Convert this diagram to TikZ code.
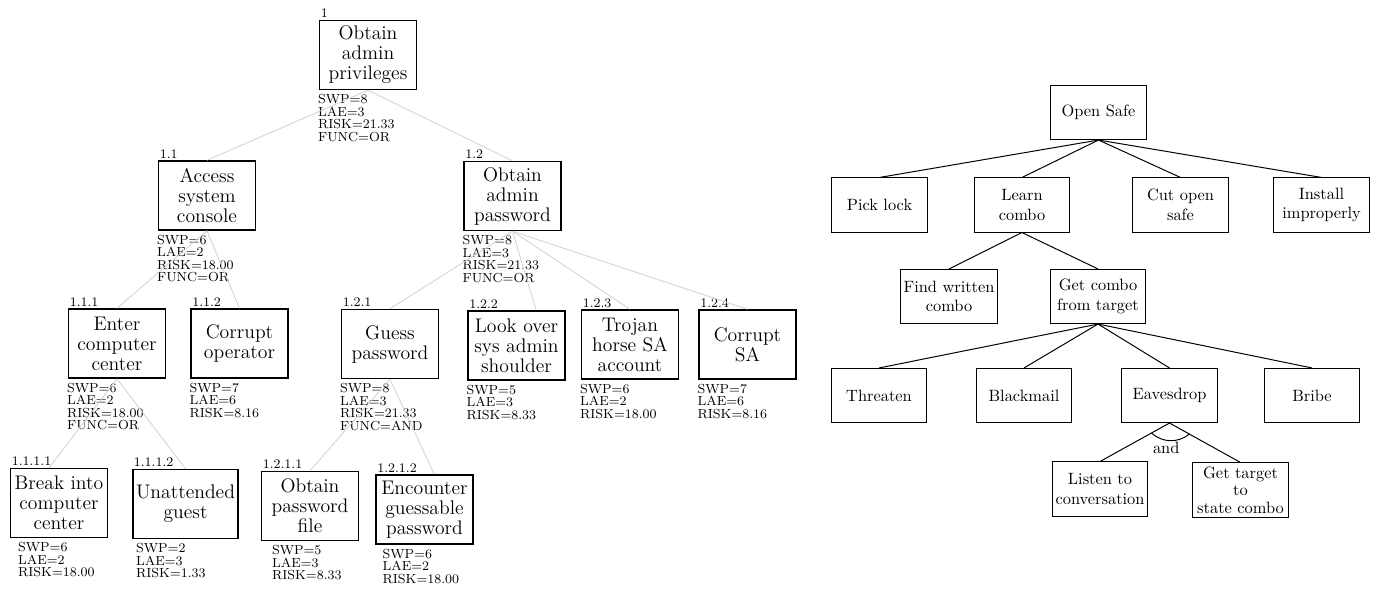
\documentclass[tikz,border=0pt]{standalone}
\usetikzlibrary{calc}

\newcommand\attnumstyle{\fontsize{8}{9}\selectfont}
\newcommand\attstatstyle{\fontsize{8}{7.6}\selectfont}
\newcommand\atttextstyle{\fontsize{12}{12.2}\selectfont}
\tikzset{
  attbox/.style={draw, line width=1pt, fill=white, align=center, inner sep=2pt,
    minimum width=59pt, minimum height=42pt, font=\atttextstyle},
  attnum/.style={anchor=south west, inner sep=1pt, font=\attnumstyle},
  attstat/.style={anchor=north west, inner sep=1pt, align=left, font=\attstatstyle},
  attedge/.style={gray!35, line width=0.5pt},
  safebox/.style={draw, semithick, align=center, inner sep=2pt,
    minimum width=58pt, minimum height=33pt},
  safeedge/.style={semithick},
}
\newcommand\attnode[6]{
  \node[attbox] (#1) at (#2) {#4} ;
  \node[attnum] (#1-num) at (#1.north west) {#3} ;
  \node[attstat] (#1-stat) at ([xshift=#5, yshift=-1.4pt]#1.south west) {#6} ;
}

\begin{document}
\begin{tikzpicture}[x=0.61pt, y=-0.61pt]
    \useasboundingbox (0, 0) rectangle (1376, 588) ;
    % attack tree with values
    \attnode{n1}{368, 55}{1}{Obtain\\admin\\privileges}{-1.6pt}{SWP=8\\LAE=3\\RISK=21.33\\FUNC=OR}
    \attnode{n11}{207, 195.5}{1.1}{Access\\system\\console}{-1.6pt}{SWP=6\\LAE=2\\RISK=18.00\\FUNC=OR}
    \attnode{n12}{512.5, 196}{1.2}{Obtain\\admin\\password}{-1.6pt}{SWP=8\\LAE=3\\RISK=21.33\\FUNC=OR}
    \attnode{n111}{117, 343.5}{1.1.1}{Enter\\computer\\center}{-1.6pt}{SWP=6\\LAE=2\\RISK=18.00\\FUNC=OR}
    \attnode{n112}{239.5, 343.5}{1.1.2}{Corrupt\\operator}{-1.6pt}{SWP=7\\LAE=6\\RISK=8.16}
    \attnode{n121}{390, 344}{1.2.1}{Guess\\password}{-1.6pt}{SWP=8\\LAE=3\\RISK=21.33\\FUNC=AND}
    \attnode{n122}{516.5, 345.5}{1.2.2}{Look over\\sys admin\\shoulder}{-1.6pt}{SWP=5\\LAE=3\\RISK=8.33}
    \attnode{n123}{630, 344.5}{1.2.3}{Trojan\\horse SA\\account}{-1.6pt}{SWP=6\\LAE=2\\RISK=18.00}
    \attnode{n124}{747.5, 344.5}{1.2.4}{Corrupt\\SA}{-1.6pt}{SWP=7\\LAE=6\\RISK=8.16}
    \attnode{n1111}{59, 503}{1.1.1.1}{Break into\\computer\\center}{3.9pt}{SWP=6\\LAE=2\\RISK=18.00}
    \attnode{n1112}{185.5, 504}{1.1.1.2}{Unattended\\guest}{1.4pt}{SWP=2\\LAE=3\\RISK=1.33}
    \attnode{n1211}{310, 506}{1.2.1.1}{Obtain\\password\\file}{5.7pt}{SWP=5\\LAE=3\\RISK=8.33}
    \attnode{n1212}{424.5, 509.5}{1.2.1.2}{Encounter\\guessable\\password}{3.3pt}{SWP=6\\LAE=2\\RISK=18.00}
    \foreach \p/\c in {n1/n11, n1/n12, n11/n111, n11/n112, n12/n121, n12/n123, n12/n124,
                       n111/n1112, n121/n1211}
      \draw[attedge] (\p.south) -- (\c.north) ;
    \draw[attedge] (n12.south) -- ([xshift=12pt]n122.north) ;
    \draw[attedge] (n111.south) -- ([xshift=-6pt]n1111.north) ;
    \draw[attedge] (n121.south) -- ([xshift=6pt]n1212.north) ;
    % safe tree
    \node[safebox] (safe) at (1098.5, 112.5) {Open Safe} ;
    \node[safebox] (pick) at (879.5, 205) {Pick lock} ;
    \node[safebox] (learn) at (1022, 205) {Learn\\combo} ;
    \node[safebox] (cut) at (1180.5, 205) {Cut open\\safe} ;
    \node[safebox] (install) at (1321.5, 205) {Install\\improperly} ;
    \node[safebox] (findcombo) at (949, 296.5) {Find written\\combo} ;
    \node[safebox] (getcombo) at (1098, 296.5) {Get combo\\from target} ;
    \node[safebox] (threaten) at (879, 395.5) {Threaten} ;
    \node[safebox] (blackmail) at (1024, 395.5) {Blackmail} ;
    \node[safebox] (eaves) at (1169.5, 395.5) {Eavesdrop} ;
    \node[safebox] (bribe) at (1312, 395.5) {Bribe} ;
    \node[safebox] (listen) at (1100, 489) {Listen to\\conversation} ;
    \node[safebox, font=\fontsize{10}{10.7}\selectfont] (gettarget) at (1240.5, 490) {Get target\\to\\state combo} ;
    \foreach \p/\c in {safe/pick, safe/learn, safe/cut, safe/install, learn/findcombo, learn/getcombo,
                       getcombo/threaten, getcombo/blackmail, getcombo/eaves, getcombo/bribe,
                       eaves/listen, eaves/gettarget}
      \draw[safeedge] (\p.south) -- (\c.north) ;
    \draw[safeedge] ($(eaves.south)!0.26!(listen.north)$) to[bend right=40] ($(eaves.south)!0.28!(gettarget.north)$) ;
    \node[inner sep=0pt] (andlbl) at ([xshift=-2pt, yshift=-15pt]eaves.south) {and} ;
\end{tikzpicture}
\end{document}
